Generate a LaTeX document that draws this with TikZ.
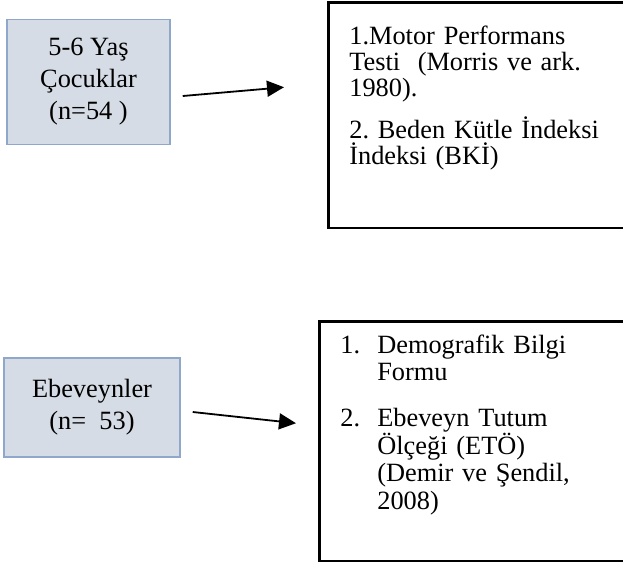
\documentclass[tikz,border=0pt]{standalone}
\usepackage{fontspec}
\setmainfont{Liberation Serif}
\usetikzlibrary{arrows.meta}
\usetikzlibrary{calc}
\definecolor{groupfill}{RGB}{214,220,229}
\definecolor{groupline}{RGB}{143,167,202}
\newcommand{\itemnr}[1]{\makebox[0.74cm][l]{#1}}
\newcommand{\boxfont}[1]{\fontsize{15pt}{#1}\selectfont\lineskiplimit=-20pt\frenchspacing}

\begin{document}
\begin{tikzpicture}[x=0.02cm, y=-0.02cm, >={Triangle[length=0.34cm,width=0.32cm]},
    groupbox/.style={draw=groupline, fill=groupfill, line width=0.03cm, align=center,
        font=\boxfont{18.2pt}},
    toolbox/.style={draw=black, line width=0.05cm, anchor=north west, inner sep=0pt},
    tooltext/.style={anchor=north west, inner sep=0pt, text width=5.6cm, align=left},
    arrowline/.style={->, line width=0.036cm}]

    \useasboundingbox (0,0) rectangle (623,562);
    \clip (0,0) rectangle (623,562);

    % children
    \node[groupbox, minimum width=3.26cm, minimum height=2.5cm] (kids) at (88.5,82)
        {5-6 Yaş\\Çocuklar\\(n=54 )};
    \node[toolbox, minimum width=7cm, minimum height=4.52cm] (tests) at (327,1) {};
    \node[tooltext, font=\boxfont{14.8pt}] (testsText) at ($(tests.north west)+(22,25)$)
        {1.Motor Performans\\Testi~~(Morris ve ark.\\1980).\\[0.32cm]
        2. Beden Kütle İndeksi\\İndeksi (BKİ)};

    % parents
    \node[groupbox, minimum width=3.52cm, minimum height=1.98cm] (parents) at (92,407.5)
        {Ebeveynler\\(n=~~53)};
    \node[toolbox, minimum width=7cm, minimum height=4.8cm] (forms) at (318,320) {};
    \node[tooltext, font=\boxfont{15.7pt}] (formsText) at ($(forms.north west)+(22,14.5)$)
        {\itemnr{1.}Demografik Bilgi\\\hspace*{0.74cm}Formu\\[0.36cm]
        \itemnr{2.}Ebeveyn Tutum\\\hspace*{0.74cm}Ölçeği (ETÖ)\\\hspace*{0.74cm}(Demir ve Şendil,\\\hspace*{0.74cm}2008)};

    \draw[arrowline] ($(kids.east)+(12,14)$) -- ($(tests.west)+(-43,-28)$);
    \draw[arrowline] ($(parents.east)+(12,4.5)$) -- ($(forms.west)+(-22,-18)$);

\end{tikzpicture}
\end{document}
